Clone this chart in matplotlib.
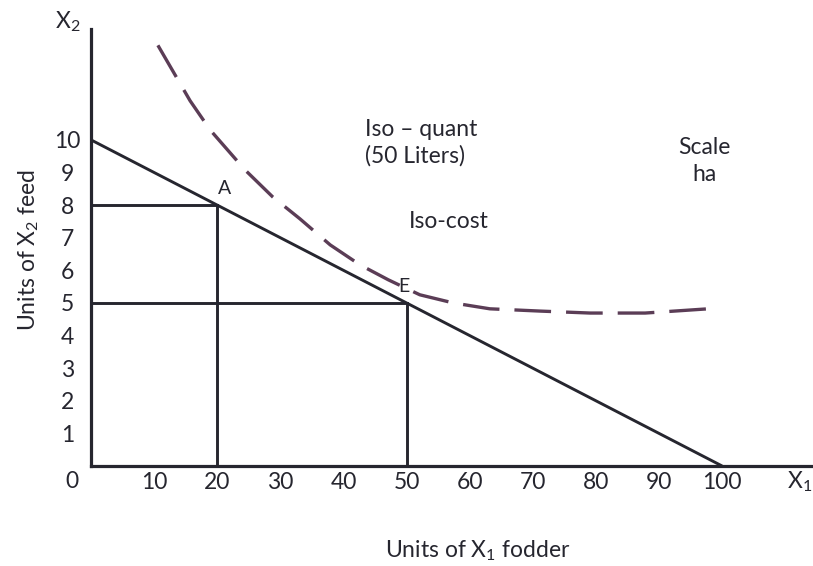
import matplotlib
matplotlib.use("Agg")
import matplotlib.pyplot as plt

plt.rcParams['font.family'] = ['Lato', 'DejaVu Sans']
plt.rcParams['mathtext.fontset'] = 'custom'
plt.rcParams['mathtext.rm'] = 'Lato'

# iso-cost line and the two marked points
cost_x = [0, 100]
cost_y = [10, 0]
point_names = ['A', 'E']
point_x = [20, 50]
point_y = [8, 5]

# iso-quant (50 Liters)
quant_x = [10.6, 15.7, 18.9, 24.4, 28.8, 33.1, 37.9, 42.6, 47.1, 52.1,
           57.4, 63.2, 71.2, 79.1, 87.8, 97.8]
quant_y = [12.9, 11.2, 10.3, 9.08, 8.25, 7.58, 6.78, 6.17, 5.71, 5.25,
           5.0, 4.82, 4.75, 4.69, 4.69, 4.82]

x_ticks = [10, 20, 30, 40, 50, 60, 70, 80, 90, 100]
y_ticks = [1, 2, 3, 4, 5, 6, 7, 8, 9, 10]

line_col = '#26262f'
quant_col = '#5b3d56'
W, H = 813, 566
fs = 16.5

fig = plt.figure(figsize=(W / 100, H / 100), dpi=100)
ax = fig.add_axes([91 / W, 100 / H, (W - 91) / W, (466 - 29) / H])
ax.set_xlim(0, 114.4)
ax.set_ylim(0, 13.4)

for s in ['top', 'right']:
    ax.spines[s].set_visible(False)
for s in ['left', 'bottom']:
    ax.spines[s].set_linewidth(2.3)
    ax.spines[s].set_color(line_col)

ax.plot(cost_x, cost_y, color=line_col, lw=2.1, solid_capstyle='butt')
ax.plot(quant_x, quant_y, color=quant_col, lw=2.4,
        linestyle=(0, (11, 4.5)))

for name, px, py in zip(point_names, point_x, point_y):
    ax.plot([px, px], [0, py], color=line_col, lw=2.1)
    ax.plot([0, px], [py, py], color=line_col, lw=2.1)
    dx = 5 if name == 'A' else -2
    ax.annotate(name, (px, py), xytext=(dx, 12), textcoords='offset points',
                fontsize=14, color=line_col, ha='center', va='center')

ax.set_xticks(x_ticks)
ax.set_xticklabels([str(v) for v in x_ticks])
ax.set_yticks(y_ticks)
ax.set_yticklabels([str(v) for v in y_ticks])
ax.tick_params(axis='both', length=0, labelsize=fs, colors=line_col)
ax.tick_params(axis='x', pad=4)
ax.tick_params(axis='y', pad=17)
for lab in ax.get_yticklabels():
    lab.set_horizontalalignment('center')

ax.set_xlabel(r'Units of $\mathregular{X_1}$ fodder', fontsize=fs,
              color=line_col)
ax.set_ylabel(r'Units of $\mathregular{X_2}$ feed', fontsize=fs,
              color=line_col)
ax.xaxis.set_label_coords((478 - 91) / (W - 91), -(538 - 466) / (466 - 29))
ax.yaxis.set_label_coords(-(91 - 41) / (W - 91), (466 - 250) / (466 - 29))

fig.text(72 / W, 1 - 482 / H, '0', fontsize=fs, color=line_col,
         ha='center', va='center')
fig.text(68 / W, 1 - 22 / H, r'$\mathregular{X_2}$', fontsize=fs,
         color=line_col, ha='center', va='center')
fig.text(787 / W, 1 - 482 / H, r'$\mathregular{X_1}$', fontsize=fs,
         color=line_col, ha='left', va='center')

fig.text(365 / W, 1 - 143 / H, 'Iso \u2013 quant\n(50 Liters)', fontsize=fs,
         color=line_col, ha='left', va='center', linespacing=1.3)
fig.text(449 / W, 1 - 222 / H, 'Iso-cost', fontsize=fs,
         color=line_col, ha='center', va='center')
fig.text(704 / W, 1 - 161 / H, 'Scale\nha', fontsize=fs,
         color=line_col, ha='center', va='center', linespacing=1.3)

fig.savefig('out.png', dpi=100, facecolor='white')
